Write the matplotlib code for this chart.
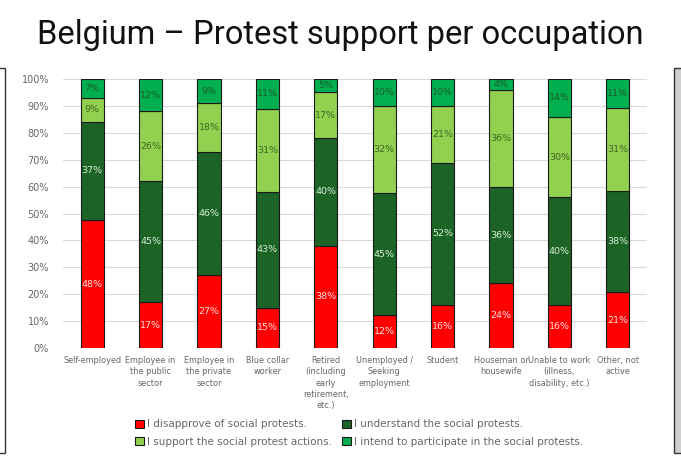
import numpy as np
from matplotlib import pyplot as plt
from matplotlib.patches import Rectangle

# occupations (x axis)
occupations = [
    "Self-employed",
    "Employee in\nthe public\nsector",
    "Employee in\nthe private\nsector",
    "Blue collar\nworker",
    "Retired\n(including\nearly\nretirement,\netc.)",
    "Unemployed /\nSeeking\nemployment",
    "Student",
    "Houseman or\nhousewife",
    "Unable to work\n(illness,\ndisability, etc.)",
    "Other, not\nactive",
]

series_names = [
    "I disapprove of social protests.",
    "I understand the social protests.",
    "I support the social protest actions.",
    "I intend to participate in the social protests.",
]

# shares in %, as labelled on the chart
disapprove = [48, 17, 27, 15, 38, 12, 16, 24, 16, 21]
understand = [37, 45, 46, 43, 40, 45, 52, 36, 40, 38]
support = [9, 26, 18, 31, 17, 32, 21, 36, 30, 31]
intend = [7, 12, 9, 11, 5, 10, 10, 4, 14, 11]

colors = ["#ff0000", "#1b6426", "#92d050", "#00b050"]
label_colors = ["#ffe0e0", "#d8ecd8", "#3f6b22", "#1e5a2a"]

values = np.array([disapprove, understand, support, intend], dtype=float)
shares = values / values.sum(axis=0) * 100  # 100% stacked

fig = plt.figure(figsize=(6.81, 4.75), dpi=100)
fig.patch.set_facecolor("white")

ax = fig.add_axes([63 / 681, 1 - 348 / 475, (647 - 63) / 681, (348 - 79) / 475])

x = np.arange(len(occupations))
bottom = np.zeros(len(occupations))
handles = []
for i in range(len(series_names)):
    bars = ax.bar(x, shares[i], 0.4, bottom=bottom, color=colors[i],
                  edgecolor="#1a1a1a", linewidth=0.8, zorder=3,
                  label=series_names[i])
    handles.append(bars)
    for j in range(len(occupations)):
        ax.text(x[j], bottom[j] + shares[i][j] / 2, "%d%%" % values[i][j],
                ha="center", va="center", fontsize=6.8, color=label_colors[i],
                zorder=4)
    bottom += shares[i]

ax.set_xlim(-0.5, len(occupations) - 0.5)
ax.set_ylim(0, 100)
ax.set_yticks(np.arange(0, 101, 10))
ax.set_yticklabels(["%d%%" % v for v in range(0, 101, 10)])
ax.set_xticks(x)
ax.set_xticklabels(occupations, fontsize=5.9, color="#666666", linespacing=1.3,
                   va="top")
ax.tick_params(axis="y", length=0, labelsize=7, labelcolor="#666666", pad=10)
ax.tick_params(axis="x", length=0, pad=6)
ax.grid(axis="y", color="#d9d9d9", linewidth=0.8, zorder=0)
for s in ax.spines.values():
    s.set_visible(False)

fig.text(0.5, 1 - 35 / 475, "Belgium \u2013 Protest support per occupation",
         ha="center", va="center", fontsize=23.5, family="Roboto", color="#111111")

order = [0, 2, 1, 3]
leg = fig.legend([handles[k] for k in order], [series_names[k] for k in order],
                 ncol=2, loc="upper left", bbox_to_anchor=(126 / 681, 1 - 410 / 475),
                 frameon=False, fontsize=7.5, handlelength=0.8, handleheight=0.8,
                 handletextpad=0.3, columnspacing=1.0, labelspacing=0.7,
                 labelcolor="#666666")

# slide elements cut off at the edges
fig.patches.append(Rectangle((-0.02, 1 - 453 / 475), 0.02 + 5 / 681, 385 / 475,
                             transform=fig.transFigure, facecolor="white",
                             edgecolor="#333333", linewidth=1.0))
fig.patches.append(Rectangle((674 / 681, 1 - 453 / 475), 0.05, 385 / 475,
                             transform=fig.transFigure, facecolor="#d0d0d0",
                             edgecolor="#333333", linewidth=1.0))

fig.savefig("out.png", dpi=100)
